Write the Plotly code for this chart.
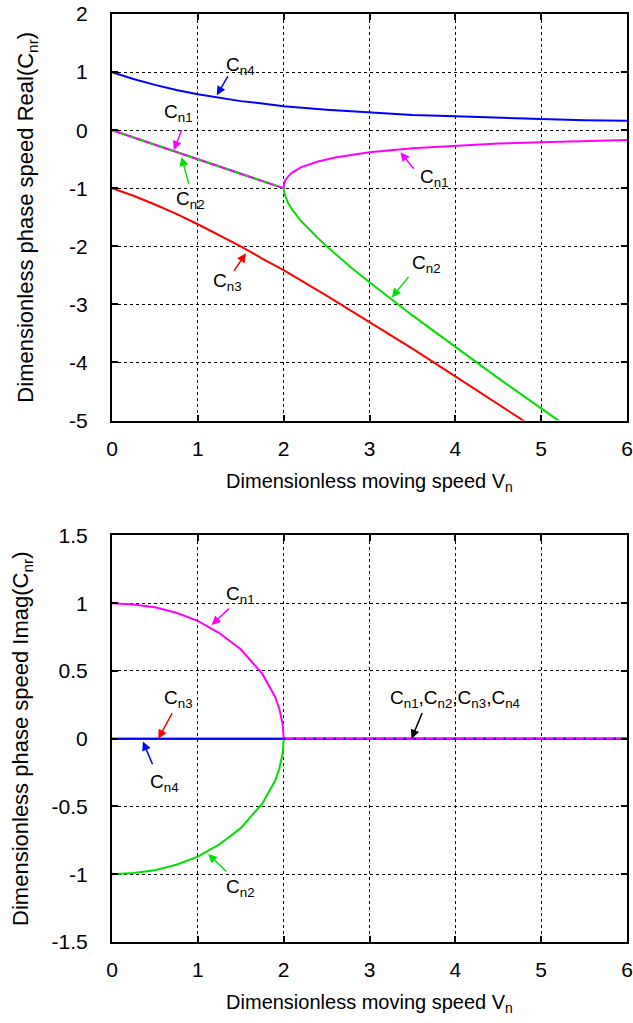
import plotly.graph_objects as go
from plotly.subplots import make_subplots

# ---- data ----
# Real part
v_lo = [0.0, 0.25, 0.5, 0.75, 1.0, 1.25, 1.5, 1.75, 2.0]
cn12_real_lo = [0.0, -0.125, -0.25, -0.375, -0.5, -0.625, -0.75, -0.875, -1.0]
v_hi = [2.0, 2.005, 2.02, 2.05, 2.1, 2.2, 2.4, 2.6, 2.8, 3.0, 3.5, 4.0, 4.5, 5.0, 5.5, 6.0]
cn1_real_hi = [-1.0, -0.93, -0.86, -0.80, -0.73, -0.64, -0.54, -0.47, -0.42, -0.38, -0.31, -0.27, -0.23, -0.21, -0.19, -0.17]
cn2_real_hi = [-1.0, -1.07, -1.14, -1.25, -1.37, -1.56, -1.86, -2.13, -2.38, -2.62, -3.19, -3.73, -4.27, -4.79, -5.31, -5.83]

v_all = [0.0, 0.25, 0.5, 0.75, 1.0, 1.25, 1.5, 1.75, 2.0, 2.5, 3.0, 3.5, 4.0, 4.5, 5.0, 5.5, 6.0]
cn3_real = [-1.0, -1.13, -1.28, -1.44, -1.62, -1.81, -2.0, -2.21, -2.41, -2.85, -3.30, -3.76, -4.24, -4.71, -5.19, -5.66, -6.16]
cn4_real = [1.0, 0.88, 0.78, 0.69, 0.62, 0.56, 0.50, 0.46, 0.41, 0.35, 0.30, 0.26, 0.24, 0.21, 0.19, 0.17, 0.16]

# Imag part
v_im = [0.0, 0.25, 0.5, 0.75, 1.0, 1.25, 1.5, 1.75, 1.9, 1.95, 1.99, 2.0, 3.0, 4.0, 5.0, 6.0]
cn1_imag = [1.0, 0.99, 0.97, 0.93, 0.87, 0.78, 0.66, 0.48, 0.31, 0.22, 0.10, 0.0, 0.0, 0.0, 0.0, 0.0]
cn2_imag = [-1.0, -0.99, -0.97, -0.93, -0.87, -0.78, -0.66, -0.48, -0.31, -0.22, -0.10, 0.0, 0.0, 0.0, 0.0, 0.0]
v_im34 = [0.0, 6.0]
cn3_imag = [0.0, 0.0]
cn4_imag = [0.0, 0.0]

x_ticks = [0, 1, 2, 3, 4, 5, 6]
y_ticks_top = [2, 1, 0, -1, -2, -3, -4, -5]
y_ticks_bot = [1.5, 1, 0.5, 0, -0.5, -1, -1.5]

MAG = "#ff00ff"
GRN = "#00e000"
RED = "#ff0000"
BLU = "#0000ff"
LW = 2
FONT = "Liberation Sans, Arial"

fig = make_subplots(rows=2, cols=1, vertical_spacing=0.1238)

def add(x, y, color, row, dash="solid"):
    fig.add_trace(go.Scatter(x=x, y=y, mode="lines", line=dict(color=color, width=LW, dash=dash),
                             showlegend=False, hoverinfo="skip"), row=row, col=1)

# top panel
add(v_all, cn3_real, RED, 1)
add(v_all, cn4_real, BLU, 1)
add(v_lo + v_hi[1:], cn12_real_lo + cn2_real_hi[1:], GRN, 1)
add(v_lo + v_hi[1:], cn12_real_lo + cn1_real_hi[1:], MAG, 1)
add(v_lo, cn12_real_lo, GRN, 1, dash="4px,6px")

# bottom panel
add(v_im34, cn3_imag, RED, 2)
add(v_im, cn2_imag, GRN, 2)
add(v_im34, cn4_imag, BLU, 2)
add(v_im, cn1_imag, MAG, 2)
add([2.0, 6.0], [0.0, 0.0], BLU, 2, dash="2px,8px")

def lbl(v):
    return "%g" % v

axis_common = dict(showline=True, linecolor="black", linewidth=2, mirror="ticks",
                   ticks="inside", ticklen=6, tickwidth=1.5, tickcolor="black",
                   showgrid=True, gridcolor="black", griddash="3px,3px", gridwidth=1,
                   zeroline=False, automargin=False, ticklabeloverflow="allow",
                   tickfont=dict(family=FONT, size=21, color="black"))

xtitle_font = dict(family=FONT, size=20, color="black")
ytitle_font = dict(family=FONT, size=22, color="black")

for r in (1, 2):
    fig.update_xaxes(range=[0, 6], tickvals=x_ticks, ticktext=[lbl(v) for v in x_ticks], row=r, col=1,
                     title=dict(text="Dimensionless moving speed V<sub>n</sub>", font=xtitle_font, standoff=15),
                     ticklabelstandoff=8, **axis_common)

fig.update_yaxes(range=[-5, 2], tickvals=y_ticks_top, ticktext=[lbl(v) for v in y_ticks_top], row=1, col=1,
                 title=dict(text="Dimensionless phase speed Real(C<sub>nr</sub>)", font=ytitle_font, standoff=29),
                 ticklabelstandoff=18, **axis_common)
fig.update_yaxes(range=[-1.5, 1.5], tickvals=y_ticks_bot, ticktext=[lbl(v) for v in y_ticks_bot],
                 row=2, col=1,
                 title=dict(text="Dimensionless phase speed Imag(C<sub>nr</sub>)", font=ytitle_font, standoff=17),
                 ticklabelstandoff=18, **axis_common)

ann_font = dict(family=FONT, size=19, color="black")

def ann(row, tx, ty, hx, hy, txt, tailx, taily, color):
    xr = "x" if row == 1 else "x2"
    yr = "y" if row == 1 else "y2"
    fig.add_annotation(x=hx, y=hy, ax=tailx, ay=taily, axref=xr, ayref=yr, xref=xr, yref=yr,
                       showarrow=True, arrowhead=2, arrowsize=1.2, arrowwidth=1.5, arrowcolor=color, text="")
    fig.add_annotation(x=tx, y=ty, xref=xr, yref=yr, showarrow=False, text=txt, font=ann_font)

ann(1, 1.50, 1.10, 1.22, 0.60, "C<sub>n4</sub>", 1.36, 0.95, BLU)
ann(1, 0.78, 0.29, 0.72, -0.34, "C<sub>n1</sub>", 0.82, 0.03, MAG)
ann(1, 0.92, -1.20, 0.81, -0.46, "C<sub>n2</sub>", 0.90, -0.95, GRN)
ann(1, 3.76, -0.82, 3.36, -0.38, "C<sub>n1</sub>", 3.53, -0.69, MAG)
ann(1, 1.35, -2.62, 1.56, -2.12, "C<sub>n3</sub>", 1.41, -2.45, RED)
ann(1, 3.66, -2.30, 3.26, -2.88, "C<sub>n2</sub>", 3.47, -2.50, GRN)

ann(2, 1.50, 1.06, 1.16, 0.84, "C<sub>n1</sub>", 1.38, 0.97, MAG)
ann(2, 0.77, 0.29, 0.54, 0.00, "C<sub>n3</sub>", 0.71, 0.20, RED)
ann(2, 0.61, -0.33, 0.36, -0.02, "C<sub>n4</sub>", 0.48, -0.20, BLU)
ann(2, 1.50, -1.10, 1.12, -0.85, "C<sub>n2</sub>", 1.35, -0.99, GRN)
ann(2, 4.00, 0.29, 3.49, 0.00, "C<sub>n1</sub>,C<sub>n2</sub>,C<sub>n3</sub>,C<sub>n4</sub>", 3.62, 0.20, "black")

fig.update_layout(width=633, height=1023, paper_bgcolor="white", plot_bgcolor="white",
                  margin=dict(l=112, r=6, t=14, b=81),
                  font=dict(family=FONT, color="black"))

# remove the browser's default 8px body margin so the figure sits at the page origin
fig.write_html("out.html", config={"displayModeBar": False},
               post_script="document.body.style.margin='0';document.body.style.overflow='hidden';")
